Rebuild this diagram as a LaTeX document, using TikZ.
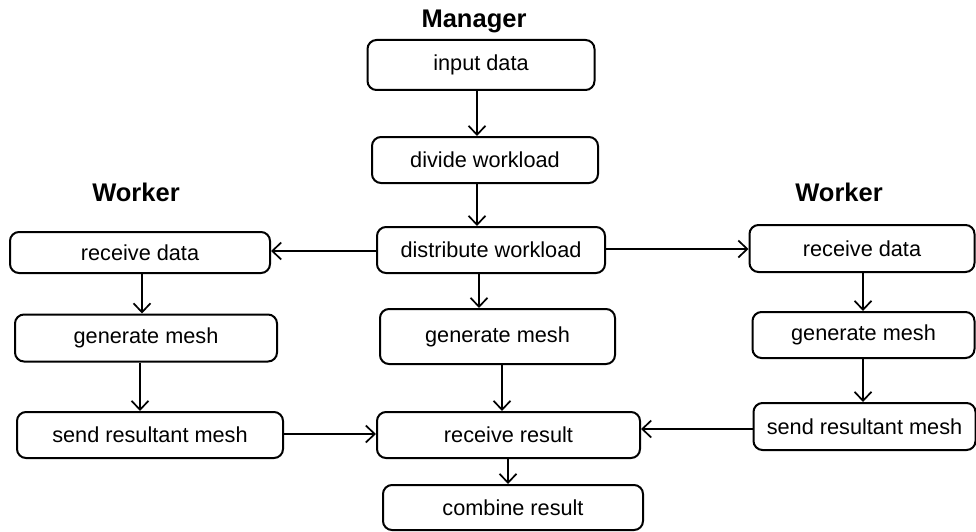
\documentclass[tikz,border=0pt]{standalone}
\usepackage{fontspec}
\setmainfont{Liberation Sans}
\usetikzlibrary{arrows.meta}
\begin{document}
\begin{tikzpicture}[x=1pt,y=-1pt,
  box/.style={draw, line width=2pt, rounded corners=9pt, inner sep=0pt, align=center,
    font=\fontsize{21.7}{24}\selectfont},
  title/.style={font=\fontsize{25.5}{28}\selectfont\bfseries},
  arr/.style={draw, line width=1.9pt, -{Straight Barb[length=9pt,width=17pt,line width=1.7pt]}}]
\useasboundingbox (0,0) rectangle (976,532);
% titles
\node[title] (tman) at (474,21) {Manager};
\node[title] (twl) at (136,192) {Worker};
\node[title] (twr) at (839,192) {Worker};
% manager column
\node[box, minimum width=227pt, minimum height=50pt] (input) at (481,65) {input data};
\node[box, minimum width=226pt, minimum height=46pt] (divide) at (485,160) {divide workload};
\node[box, minimum width=228pt, minimum height=46pt] (dist) at (491,250) {distribute workload};
\node[box, minimum width=235pt, minimum height=55pt] (mgen) at (497.5,336.5) {generate mesh};
\node[box, minimum width=263pt, minimum height=46pt] (mrecv) at (508.5,435) {receive result};
\node[box, minimum width=260pt, minimum height=45pt] (comb) at (513,507.5) {combine result};
% left worker
\node[box, minimum width=260pt, minimum height=41pt] (lrecv) at (140,252.5) {receive data};
\node[box, minimum width=262pt, minimum height=47pt] (lgen) at (146,338) {generate mesh};
\node[box, minimum width=266pt, minimum height=46pt] (lsend) at (150,435) {send resultant mesh};
% right worker
\node[box, minimum width=225pt, minimum height=47pt] (rrecv) at (862,248.5) {receive data};
\node[box, minimum width=222pt, minimum height=46pt] (rgen) at (863.5,335) {generate mesh};
\node[box, minimum width=222pt, minimum height=47pt] (rsend) at (864.5,426.5) {send resultant mesh};
% column coordinates
\coordinate (c477) at (477,0);
\coordinate (c479) at (479,0);
\coordinate (c502) at (502,0);
\coordinate (c508) at (508,0);
\coordinate (c142) at (142,0);
\coordinate (c140) at (140,0);
\coordinate (c863) at (863,0);
\coordinate (r251) at (0,251);
\coordinate (r249) at (0,249);
\coordinate (r434) at (0,434);
\coordinate (r429) at (0,429);
% connectors
\draw[arr] (input.south -| c477) -- (divide.north -| c477);
\draw[arr] (divide.south -| c477) -- (dist.north -| c477);
\draw[arr] (dist.south -| c479) -- (mgen.north -| c479);
\draw[arr] (mgen.south -| c502) -- (mrecv.north -| c502);
\draw[arr] (mrecv.south -| c508) -- (comb.north -| c508);
\draw[arr] (dist.west |- r251) -- (lrecv.east |- r251);
\draw[arr] (dist.east |- r249) -- (rrecv.west |- r249);
\draw[arr] (lrecv.south -| c142) -- (lgen.north -| c142);
\draw[arr] (lgen.south -| c140) -- (lsend.north -| c140);
\draw[arr] (lsend.east |- r434) -- (mrecv.west |- r434);
\draw[arr] (rrecv.south -| c863) -- (rgen.north -| c863);
\draw[arr] (rgen.south -| c863) -- (rsend.north -| c863);
\draw[arr] (rsend.west |- r429) -- (mrecv.east |- r429);
\end{tikzpicture}
\end{document}
